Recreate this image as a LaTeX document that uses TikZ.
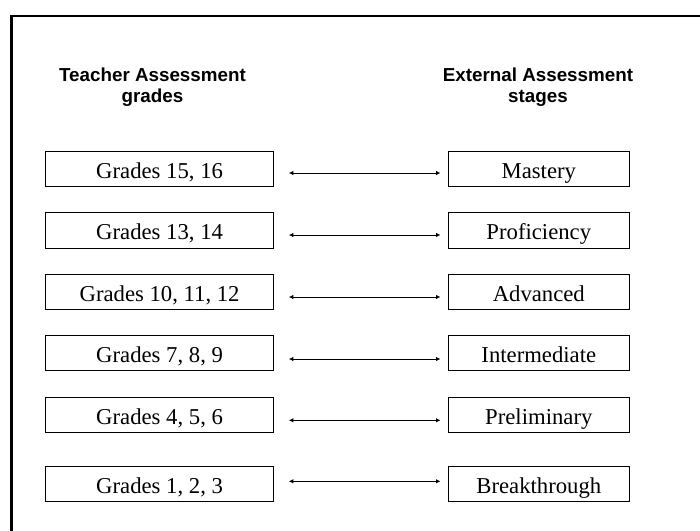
\documentclass[tikz,border=0pt]{standalone}
\usepackage{fontspec}
\setmainfont{Liberation Serif}
\newfontfamily\hdrfont{Liberation Sans}
\usetikzlibrary{arrows.meta}
\tikzset{
  gradebox/.style={draw=black, line width=1pt, inner sep=0pt, minimum height=35.5pt,
    text height=24pt, text depth=5pt,
    font=\fontsize{22.7}{26}\selectfont},
  leftbox/.style={gradebox, minimum width=228.2pt},
  rightbox/.style={gradebox, minimum width=181pt},
  header/.style={align=center, inner sep=0pt, anchor=base,
    font=\hdrfont\bfseries\fontsize{18.8}{20.8}\selectfont},
  conn/.style={line width=1pt, {Latex[length=4.5pt,width=4.5pt]}-{Latex[length=4.5pt,width=4.5pt]}},
  frame/.style={line width=2.5pt}
}
\begin{document}
\begin{tikzpicture}[x=1pt,y=-1pt]
\useasboundingbox (0,0) rectangle (700,530);
\coordinate (fa) at (11.5,540);
\coordinate (fb) at (11.5,16.2);
\coordinate (fc) at (710,16.2);
\draw[frame] (fa) -- (fb) -- (fc);

\node[header] (hl) at (152.5,102.5) {Teacher Assessment\\grades};
\node[header] (hr) at (538,102) {External Assessment\\stages};

\node[leftbox] (l1) at (159.6,168.75) {Grades 15, 16};
\node[leftbox] (l2) at (159.6,230.45) {Grades 13, 14};
\node[leftbox] (l3) at (159.6,291.75) {Grades 10, 11, 12};
\node[leftbox] (l4) at (159.6,353.05) {Grades 7, 8, 9};
\node[leftbox] (l5) at (159.6,415.05) {Grades 4, 5, 6};
\node[leftbox] (l6) at (159.6,483.75) {Grades 1, 2, 3};

\node[rightbox] (r1) at (538.8,168.75) {Mastery};
\node[rightbox] (r2) at (538.8,230.45) {Proficiency};
\node[rightbox] (r3) at (538.8,291.75) {Advanced};
\node[rightbox] (r4) at (538.8,353.05) {Intermediate};
\node[rightbox] (r5) at (538.8,415.05) {Preliminary};
\node[rightbox] (r6) at (538.8,483.75) {Breakthrough};

\draw[conn] ([shift={(14.6,4.25)}]l1.east) -- ([shift={(-7.3,4.25)}]r1.west);
\draw[conn] ([shift={(14.6,4.55)}]l2.east) -- ([shift={(-7.3,4.55)}]r2.west);
\draw[conn] ([shift={(14.6,5.25)}]l3.east) -- ([shift={(-7.3,5.25)}]r3.west);
\draw[conn] ([shift={(14.6,5.95)}]l4.east) -- ([shift={(-7.3,5.95)}]r4.west);
\draw[conn] ([shift={(14.6,5.25)}]l5.east) -- ([shift={(-7.3,5.25)}]r5.west);
\draw[conn] ([shift={(14.6,-2.45)}]l6.east) -- ([shift={(-7.3,-2.45)}]r6.west);
\end{tikzpicture}
\end{document}
